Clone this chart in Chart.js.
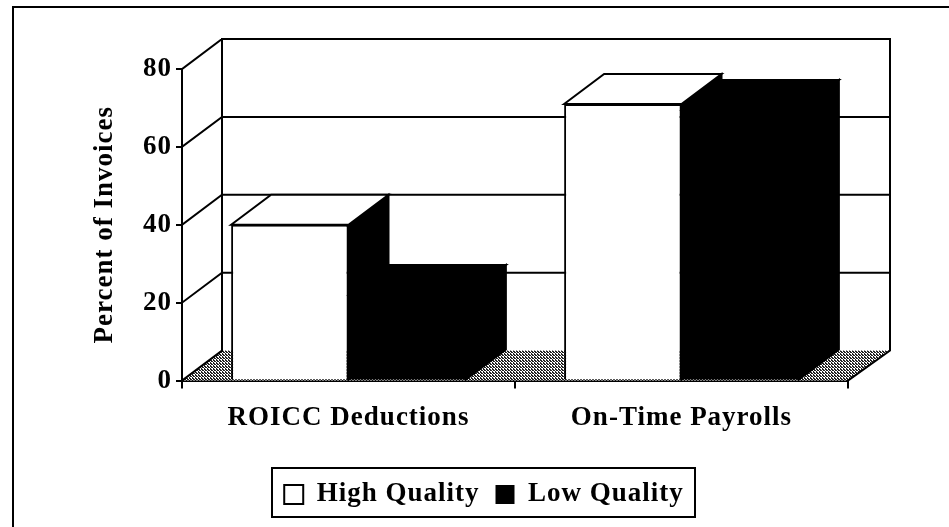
<!DOCTYPE html>
<html lang="en">
<head>
<meta charset="UTF-8">
<title>Percent of Invoices</title>
<script src="https://cdn.jsdelivr.net/npm/chart.js"></script>
<style>
    html, body { margin: 0; padding: 0; background: #fff; }
    #wrap { position: relative; width: 949px; height: 527px; overflow: hidden; }
    #frame { position: absolute; left: 12px; top: 6px; width: 960px; height: 540px; border: 2px solid #000; }
    canvas { position: absolute; left: 0; top: 0; }
</style>
</head>
<body>
<div id="wrap">
    <div id="frame"></div>
    <canvas id="chart" width="949" height="527"></canvas>
</div>
<script>
// values
const categories = ['ROICC Deductions', 'On-Time Payrolls'];
const highQuality = [40, 71];
const lowQuality = [22, 69.5];
const yTicks = [0, 20, 40, 60, 80];

const depthX = 40;
const depthY = 30;
const wallExtra = 2;
const fontFace = { family: '"Liberation Serif"', weight: 'bold', size: 27 };

function poly(ctx, pts, fill, stroke) {
    ctx.beginPath();
    pts.forEach((p, i) => i ? ctx.lineTo(p[0], p[1]) : ctx.moveTo(p[0], p[1]));
    ctx.closePath();
    if (fill) { ctx.fillStyle = fill; ctx.fill(); }
    if (stroke) { ctx.strokeStyle = stroke; ctx.lineWidth = 2; ctx.stroke(); }
}

// dotted floor
function floorPattern(ctx) {
    const c = document.createElement('canvas');
    c.width = 3; c.height = 3;
    const g = c.getContext('2d');
    g.fillStyle = '#fff';
    g.fillRect(0, 0, 3, 3);
    g.fillStyle = '#222';
    g.fillRect(0, 0, 2, 1);
    g.fillRect(1, 1, 2, 1);
    g.fillRect(0, 2, 1, 1);
    return ctx.createPattern(c, 'repeat');
}

const spacing = {
    id: 'spacing',
    beforeUpdate(chart) { chart.ctx.letterSpacing = '1px'; },
    beforeDraw(chart) { chart.ctx.letterSpacing = '1px'; }
};

// back walls, floor and the side and top faces of the bars
const walls = {
    id: 'walls',
    beforeDatasetsDraw(chart) {
        const ctx = chart.ctx;
        const a = chart.chartArea;
        const y = chart.scales.y;
        const backRight = a.right + depthX + wallExtra;
        ctx.save();
        ctx.lineCap = 'square';
        poly(ctx, [[a.left, a.bottom], [a.right, a.bottom], [backRight, a.bottom - depthY], [a.left + depthX, a.bottom - depthY]], floorPattern(ctx));
        ctx.strokeStyle = '#000';
        ctx.lineWidth = 2;
        ctx.beginPath();
        yTicks.forEach(t => {
            const py = y.getPixelForValue(t);
            ctx.moveTo(a.left, py);
            ctx.lineTo(a.left + depthX, py - depthY);
            if (t > 0) ctx.lineTo(backRight, py - depthY);
        });
        ctx.moveTo(a.left + depthX, a.top - depthY);
        ctx.lineTo(a.left + depthX, a.bottom - depthY);
        ctx.moveTo(backRight, a.top - depthY);
        ctx.lineTo(backRight, a.bottom - depthY);
        ctx.lineTo(a.right, a.bottom);
        ctx.stroke();

        chart.data.datasets.forEach((ds, i) => {
            chart.getDatasetMeta(i).data.forEach(bar => {
                const l = bar.x - bar.width / 2;
                const r = bar.x + bar.width / 2;
                const t = bar.y;
                const b = bar.base;
                poly(ctx, [[r, t], [r + depthX, t - depthY], [r + depthX, b - depthY], [r, b]], '#000', '#000');
                poly(ctx, [[l, t], [l + depthX, t - depthY], [r + depthX, t - depthY], [r, t]], ds.backgroundColor, '#000');
            });
        });
        ctx.restore();
    }
};

// boxed legend, placed where the picture has it
const legendBox = {
    id: 'legendBox',
    afterLayout(chart) {
        const l = chart.legend;
        const h = l.bottom - l.top;
        l.left = 262; l.right = 706;
        l.top = 465; l.bottom = 465 + h;
    },
    afterDraw(chart) {
        const ctx = chart.ctx;
        ctx.save();
        ctx.strokeStyle = '#000';
        ctx.lineWidth = 2;
        ctx.strokeRect(272, 468, 423, 49);
        ctx.restore();
    }
};

new Chart(document.getElementById('chart'), {
    type: 'bar',
    data: {
        labels: categories,
        datasets: [
            { label: 'High Quality', data: highQuality, backgroundColor: '#fff', borderColor: '#000', borderWidth: 2 },
            { label: 'Low Quality', data: lowQuality, backgroundColor: '#000', borderColor: '#000', borderWidth: 0 }
        ]
    },
    plugins: [spacing, walls, legendBox],
    options: {
        responsive: false,
        animation: false,
        layout: { padding: { left: 89, right: 101, top: 69, bottom: 27 } },
        categoryPercentage: 0.705,
        barPercentage: 1,
        scales: {
            x: {
                grid: { drawOnChartArea: false, color: '#000', lineWidth: 2, tickLength: 8 },
                border: { color: '#000', width: 2 },
                ticks: { color: '#000', maxRotation: 0, padding: 13, font: fontFace }
            },
            y: {
                min: 0,
                max: 80,
                afterFit(scale) { scale.width = 93; },
                title: { display: true, text: 'Percent of Invoices', color: '#000', padding: 0, font: fontFace },
                afterBuildTicks(scale) { scale.ticks = yTicks.map(v => ({ value: v })); },
                grid: { drawOnChartArea: false, color: '#000', lineWidth: 2, tickLength: 6 },
                border: { color: '#000', width: 2 },
                ticks: { color: '#000', padding: 4, font: fontFace }
            }
        },
        plugins: {
            tooltip: { enabled: false },
            legend: {
                position: 'bottom',
                labels: { color: '#000', boxWidth: 19, boxHeight: 19, padding: 16, font: fontFace }
            }
        }
    }
});
</script>
</body>
</html>
